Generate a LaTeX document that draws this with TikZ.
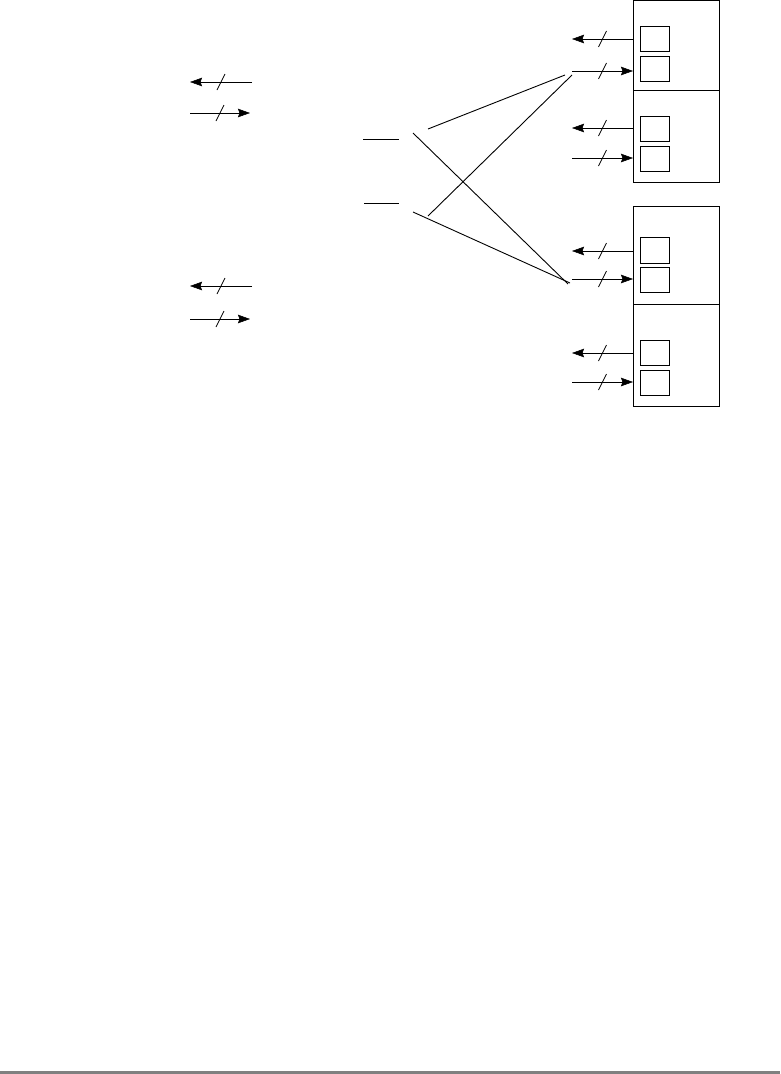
\documentclass[tikz,border=0pt]{standalone}
\usetikzlibrary{arrows.meta,decorations.markings}
\begin{document}
\begin{tikzpicture}[x=1pt,y=-1pt,line width=0.9pt,
  unit/.style={draw,rectangle,inner sep=0pt,minimum width=86pt,anchor=north west},
  cell/.style={draw,rectangle,inner sep=0pt,minimum width=29pt,minimum height=25pt,anchor=north west},
  bus/.style={-{Stealth[length=12pt,width=8.5pt,inset=1.5pt,line width=0.5pt]},postaction={decorate},
    decoration={markings,mark=at position 0.5 with {\draw[-,line width=0.8pt] (-4pt,-8pt) -- (4pt,8pt);}}},
  wire/.style={line width=0.9pt}]
\useasboundingbox (0,0) rectangle (780,1074);
% right-hand units
\node[unit,minimum height=90pt] (u1a) at (633,0) {};
\node[unit,minimum height=92pt] (u1b) at (633,90) {};
\node[unit,minimum height=98pt] (u2a) at (633,206) {};
\node[unit,minimum height=102pt] (u2b) at (633,304) {};
% cells
\node[cell] (c1) at (640,26) {};
\node[cell] (c2) at (640,56) {};
\node[cell] (c3) at (640,116) {};
\node[cell] (c4) at (640,146) {};
\node[cell,minimum height=26pt] (c5) at (640,237) {};
\node[cell] (c6) at (640,267) {};
\node[cell] (c7) at (640,340) {};
\node[cell] (c8) at (640,370) {};
% free ends of the right-hand buses
\coordinate (f1) at (572,39);
\coordinate (f2) at (572,71);
\coordinate (f3) at (572,128);
\coordinate (f4) at (572,158);
\coordinate (f5) at (572,251);
\coordinate (f6) at (572,279);
\coordinate (f7) at (572,353);
\coordinate (f8) at (572,382);
\coordinate (g1) at (633,39);
\coordinate (g2) at (633,71);
\coordinate (g3) at (633,128);
\coordinate (g4) at (633,158);
\coordinate (g5) at (633,251);
\coordinate (g6) at (633,279);
\coordinate (g7) at (633,353);
\coordinate (g8) at (633,382);
\draw[bus] (g1) -- (f1);
\draw[bus] (f2) -- (g2);
\draw[bus] (g3) -- (f3);
\draw[bus] (f4) -- (g4);
\draw[bus] (g5) -- (f5);
\draw[bus] (f6) -- (g6);
\draw[bus] (g7) -- (f7);
\draw[bus] (f8) -- (g8);
% left-hand buses
\coordinate (la1) at (252,82);  \coordinate (lb1) at (190,82);
\coordinate (la2) at (190,113); \coordinate (lb2) at (250,113);
\coordinate (la3) at (252,286); \coordinate (lb3) at (190,286);
\coordinate (la4) at (190,319); \coordinate (lb4) at (250,319);
\draw[bus] (la1) -- (lb1);
\draw[bus] (la2) -- (lb2);
\draw[bus] (la3) -- (lb3);
\draw[bus] (la4) -- (lb4);
% middle stubs
\coordinate (s1a) at (363,139); \coordinate (s1b) at (399,139);
\coordinate (s2a) at (364,203); \coordinate (s2b) at (399,203);
\draw[wire] (s1a) -- (s1b);
\draw[wire] (s2a) -- (s2b);
% crossing wires
\coordinate (x1) at (413,133); \coordinate (x2) at (428,129);
\coordinate (x3) at (428,216); \coordinate (x4) at (413,212);
\coordinate (t1) at (565,75);  \coordinate (t2) at (572,75);
\coordinate (t3) at (568,284); \coordinate (t4) at (570,283);
\draw[wire] (x2) -- (t1);
\draw[wire] (x1) -- (t3);
\draw[wire] (x3) -- (t2);
\draw[wire] (x4) -- (t4);
% bottom rule
\fill[gray] (0,1071) rectangle (780,1074);
\end{tikzpicture}
\end{document}
